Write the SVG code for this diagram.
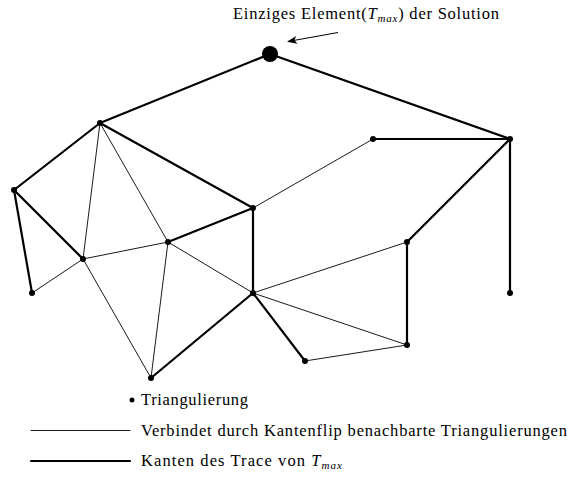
<svg xmlns="http://www.w3.org/2000/svg" width="568" height="477" viewBox="0 0 568 477">
<style>
.thick{stroke:#000;stroke-width:2.2;fill:none;stroke-linecap:round}
.thin{stroke:#000;stroke-width:0.9;fill:none;stroke-linecap:round}
.n{fill:#000}
text{font-family:"Liberation Serif","Times New Roman",serif;font-size:16.5px;fill:#000}
.it{font-style:italic}
.sub{font-style:italic;font-size:11px}
</style>
<defs>
<marker id="ah" markerWidth="10" markerHeight="8" refX="9" refY="4" orient="auto" markerUnits="userSpaceOnUse">
<path d="M0,0 L10,4 L0,8 L2.5,4 Z" fill="#000"/>
</marker>
</defs>
<rect width="568" height="477" fill="#fff"/>
<g id="connectors">
<line class="thick" x1="270" y1="54" x2="100" y2="123"/>
<line class="thick" x1="270" y1="54" x2="510" y2="139"/>
<line class="thick" x1="100" y1="123" x2="14" y2="190"/>
<line class="thick" x1="100" y1="123" x2="253" y2="208"/>
<line class="thick" x1="14" y1="190" x2="83" y2="259"/>
<line class="thick" x1="14" y1="190" x2="32" y2="293"/>
<line class="thick" x1="168" y1="242" x2="253" y2="208"/>
<line class="thick" x1="253" y1="208" x2="253" y2="293"/>
<line class="thick" x1="253" y1="293" x2="151" y2="378"/>
<line class="thick" x1="253" y1="293" x2="305" y2="361"/>
<line class="thick" x1="373" y1="139" x2="510" y2="139"/>
<line class="thick" x1="510" y1="139" x2="407" y2="242"/>
<line class="thick" x1="510" y1="139" x2="510" y2="293"/>
<line class="thick" x1="407" y1="242" x2="407" y2="345"/>
<line class="thin" x1="100" y1="123" x2="83" y2="259"/>
<line class="thin" x1="100" y1="123" x2="168" y2="242"/>
<line class="thin" x1="32" y1="293" x2="83" y2="259"/>
<line class="thin" x1="83" y1="259" x2="168" y2="242"/>
<line class="thin" x1="83" y1="259" x2="151" y2="378"/>
<line class="thin" x1="168" y1="242" x2="151" y2="378"/>
<line class="thin" x1="168" y1="242" x2="253" y2="293"/>
<line class="thin" x1="253" y1="208" x2="373" y2="139"/>
<line class="thin" x1="253" y1="293" x2="407" y2="242"/>
<line class="thin" x1="253" y1="293" x2="407" y2="345"/>
<line class="thin" x1="305" y1="361" x2="407" y2="345"/>
<line x1="338" y1="32.5" x2="288" y2="41.5" stroke="#000" stroke-width="1" marker-end="url(#ah)"/>
</g>
<g id="tmax"><circle class="n" cx="270" cy="54" r="8"/></g>
<g id="nA"><circle class="n" cx="100" cy="123" r="3"/></g>
<g id="nB"><circle class="n" cx="14" cy="190" r="3"/></g>
<g id="nC"><circle class="n" cx="32" cy="293" r="3"/></g>
<g id="nD"><circle class="n" cx="83" cy="259" r="3"/></g>
<g id="nE"><circle class="n" cx="168" cy="242" r="3"/></g>
<g id="nF"><circle class="n" cx="253" cy="208" r="3"/></g>
<g id="nG"><circle class="n" cx="253" cy="293" r="3"/></g>
<g id="nH"><circle class="n" cx="151" cy="378" r="3"/></g>
<g id="nI"><circle class="n" cx="305" cy="361" r="3"/></g>
<g id="nJ"><circle class="n" cx="407" cy="345" r="3"/></g>
<g id="nK"><circle class="n" cx="407" cy="242" r="3"/></g>
<g id="nL"><circle class="n" cx="373" cy="139" r="3"/></g>
<g id="nM"><circle class="n" cx="510" cy="139" r="3"/></g>
<g id="nN"><circle class="n" cx="510" cy="293" r="3"/></g>
<g id="title">
<text x="233" y="19" textLength="266">Einziges Element(<tspan class="it">T</tspan><tspan class="sub" dy="3">max</tspan><tspan dy="-3">) der Solution</tspan></text>
</g>
<g id="legend">
<circle class="n" cx="132" cy="400" r="2.5"/>
<text x="141" y="405" textLength="107">Triangulierung</text>
<line class="thin" x1="31" y1="430.5" x2="130" y2="430.5"/>
<text x="141" y="436" textLength="426">Verbindet durch Kantenflip benachbarte Triangulierungen</text>
<line class="thick" x1="31" y1="461" x2="130" y2="461" stroke-linecap="butt"/>
<text x="141" y="466" textLength="201">Kanten des Trace von <tspan class="it">T</tspan><tspan class="sub" dy="3">max</tspan></text>
</g>
</svg>
